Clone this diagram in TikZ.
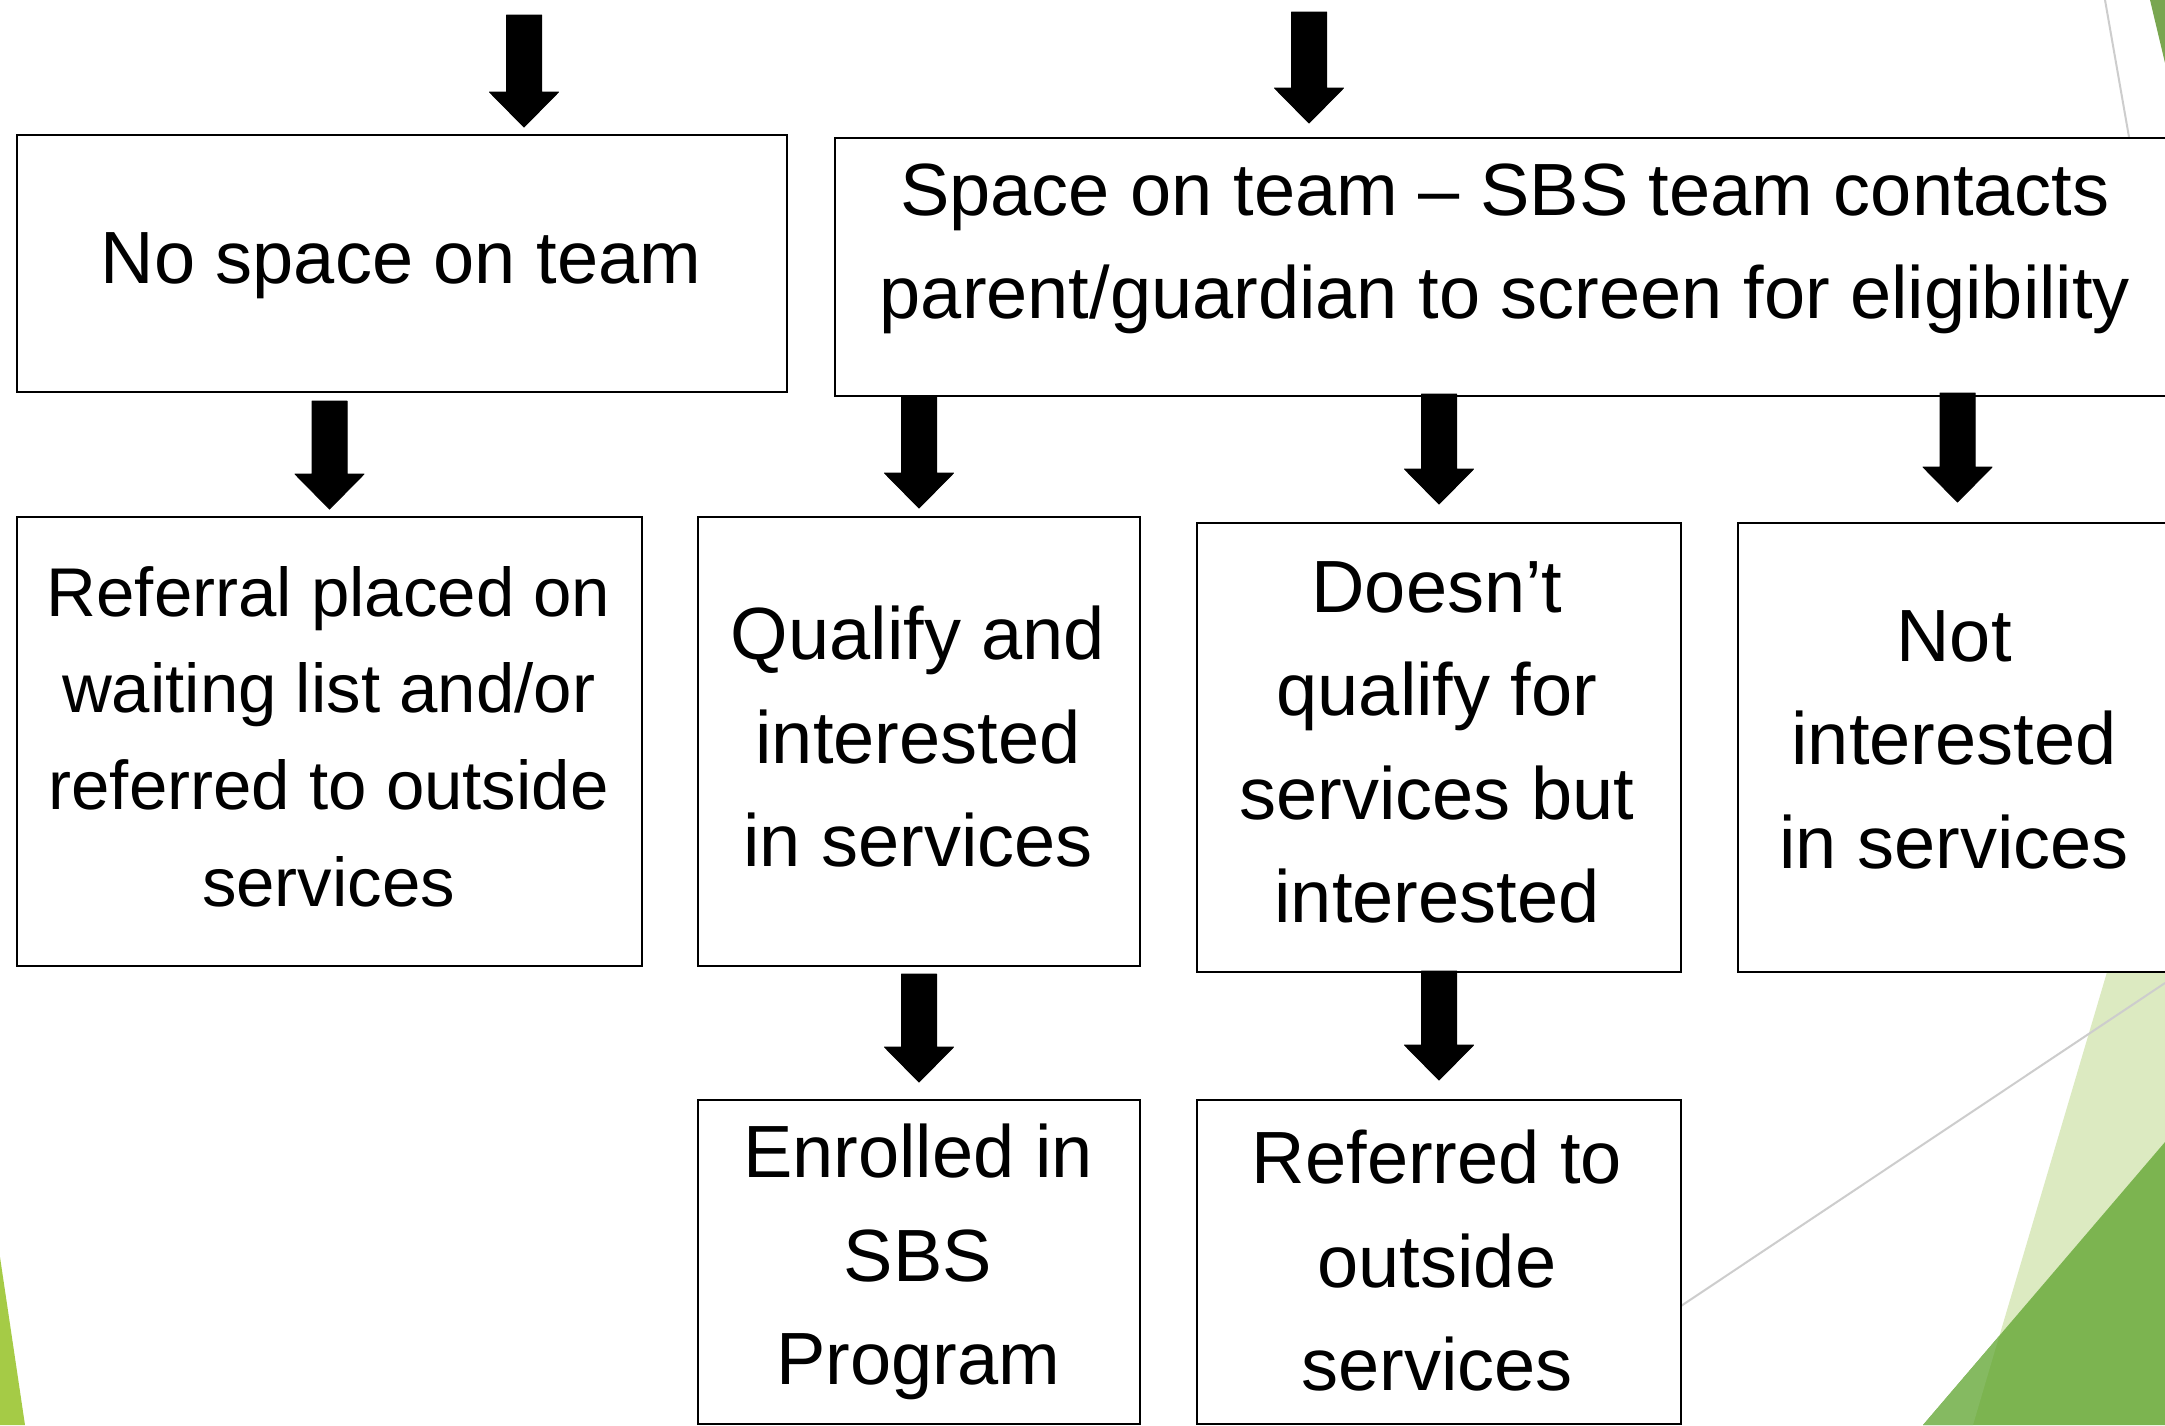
\documentclass[tikz,border=0pt]{standalone}
\usepackage{fontspec}
\setmainfont{Liberation Sans}
\usetikzlibrary{calc}
\definecolor{lightgreen}{RGB}{220,234,193}
\definecolor{darkgreen}{RGB}{124,180,80}
\definecolor{midgreen}{RGB}{133,186,97}
\definecolor{topgreen}{RGB}{121,166,80}
\definecolor{limegreen}{RGB}{165,203,70}
\definecolor{thingrey}{RGB}{205,205,205}
\newcommand\blockarrow[2]{%
  \filldraw[arrowfill] ($(#1)+(-17.5,0)$) -- ($(#2)+(-17.5,-35)$) -- ($(#2)+(-34.5,-35)$) -- (#2)
    -- ($(#2)+(34.5,-35)$) -- ($(#2)+(17.5,-35)$) -- ($(#1)+(17.5,0)$) -- cycle;}
\begin{document}
\begin{tikzpicture}[x=1pt,y=-1pt,
  box/.style={draw=black, fill=white, line width=2pt, inner sep=0pt, anchor=north west},
  txt/.style={align=center, inner sep=0pt, font=\fontsize{74}{103.5}\selectfont},
  txtsmall/.style={align=center, inner sep=0pt, font=\fontsize{69}{96.6}\selectfont},
  arrowfill/.style={fill=black, draw=black, line width=1pt, line join=round},
  deco/.style={draw=none}]
\useasboundingbox (0,0) rectangle (2165,1425);
\clip (0,0) rectangle (2165,1425);
% background decorations
\fill[white] (0,0) rectangle (2165,1425);
\fill[lightgreen] (2165,776) -- (1973,1425) -- (2165,1425) -- cycle;
\fill[darkgreen] (2165,1142) -- (1923,1425) -- (2165,1425) -- cycle;
\fill[midgreen] (1999.3,1335.8) -- (1923,1425) -- (1973,1425) -- cycle;
\fill[topgreen] (2150,0) -- (2165,0) -- (2165,63) -- cycle;
\fill[limegreen] (0,1257) -- (25,1425) -- (0,1425) -- cycle;
\draw[thingrey, line width=2pt] (2105,0) -- (2140,200);
\draw[thingrey, line width=2pt] (1600,1360) -- (2165,983);
% boxes
\node[box, minimum width=770pt, minimum height=257pt] (A) at (16,134) {};
\node[box, minimum width=1342pt, minimum height=258pt] (B) at (834,137) {};
\node[box, minimum width=625pt, minimum height=449pt] (R) at (16,516) {};
\node[box, minimum width=442pt, minimum height=449pt] (Q) at (697,516) {};
\node[box, minimum width=484pt, minimum height=449pt] (D) at (1196,522) {};
\node[box, minimum width=439pt, minimum height=449pt] (N) at (1737,522) {};
\node[box, minimum width=442pt, minimum height=324pt] (E) at (697,1099) {};
\node[box, minimum width=484pt, minimum height=324pt] (F) at (1196,1099) {};
% texts
\node[txt] (At) at (401,266) {No space on team};
\node[txt] (Bt) at (1505,249) {Space on team – SBS team contacts\\parent/guardian to screen for eligibility};
\node[txtsmall] (Rt) at (328.6,736.6) {Referral placed on\\waiting list and/or\\referred to outside\\services};
\node[txt] (Qt) at (918,736.6) {Qualify and\\interested\\in services};
\node[txt] (Dt) at (1437,742.5) {Doesn’t\\qualify for\\services but\\interested};
\node[txt] (Nt) at (1954,739.6) {Not\\interested\\in services};
\node[txt] (Et) at (918,1262) {Enrolled in\\SBS\\Program};
\node[txt] (Ft) at (1437,1260.6) {Referred to\\outside\\services};
% arrow end points
\coordinate (t1) at (524,15);
\coordinate (t2) at (1309,12);
\coordinate (e1) at ($(t1 |- A.north)+(0,-7)$);
\coordinate (e2) at ($(t2 |- B.north)+(0,-14)$);
\coordinate (s3) at ($(A.south -| R.north)+(0,8)$);
\coordinate (e3) at ($(R.north)+(0,-7)$);
\coordinate (s4) at (B.south -| Q.north);
\coordinate (e4) at ($(Q.north)+(0,-8)$);
\coordinate (s5) at ($(B.south -| D.north)+(0,-3)$);
\coordinate (e5) at ($(D.north)+(0,-18)$);
\coordinate (s6) at ($(B.south -| N.north)+(0,-4)$);
\coordinate (e6) at ($(N.north)+(0,-20)$);
\coordinate (s7) at ($(Q.south)+(0,7)$);
\coordinate (e7) at ($(E.north)+(0,-17)$);
\coordinate (s8) at ($(D.south)+(0,-2)$);
\coordinate (e8) at ($(F.north)+(0,-19)$);
% arrows
\blockarrow{t1}{e1}
\blockarrow{t2}{e2}
\blockarrow{s3}{e3}
\blockarrow{s4}{e4}
\blockarrow{s5}{e5}
\blockarrow{s6}{e6}
\blockarrow{s7}{e7}
\blockarrow{s8}{e8}
\end{tikzpicture}
\end{document}
